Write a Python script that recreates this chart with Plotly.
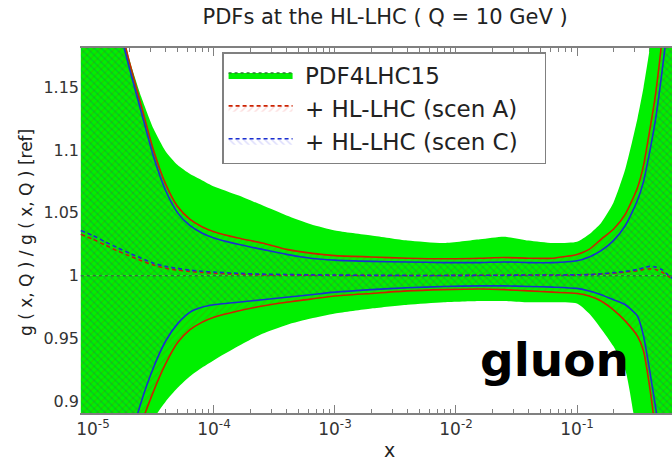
import plotly.graph_objects as go

# ---------------- data ----------------
x = [7.94e-6, 1.00e-5, 1.26e-5, 1.58e-5, 2.00e-5, 2.51e-5, 3.16e-5, 3.98e-5, 5.01e-5, 6.31e-5,
     7.94e-5, 1.00e-4, 1.58e-4, 2.51e-4, 3.98e-4, 6.31e-4, 1.00e-3, 2.00e-3, 3.98e-3, 7.94e-3,
     1.58e-2, 2.51e-2, 3.98e-2, 6.31e-2, 0.100, 0.126, 0.158, 0.200, 0.251, 0.316,
     0.355, 0.398, 0.447, 0.501, 0.562, 0.631]

# PDF4LHC15 band
pdf_up = [1.40, 1.33, 1.27, 1.215, 1.172, 1.142, 1.117, 1.099, 1.088, 1.081,
          1.076, 1.071, 1.064, 1.056, 1.048, 1.041, 1.036, 1.032, 1.028, 1.026,
          1.029, 1.031, 1.028, 1.026, 1.027, 1.033, 1.042, 1.058, 1.085, 1.125,
          1.150, 1.180, 1.220, 1.270, 1.330, 1.400]
pdf_c = [1.0] * 36
pdf_lo = [0.55, 0.62, 0.70, 0.77, 0.825, 0.862, 0.886, 0.900, 0.911, 0.920,
          0.927, 0.933, 0.944, 0.954, 0.961, 0.966, 0.970, 0.974, 0.977, 0.979,
          0.980, 0.980, 0.979, 0.979, 0.978, 0.970, 0.958, 0.944, 0.925, 0.870,
          0.830, 0.790, 0.750, 0.700, 0.650, 0.600]

# + HL-LHC (scen A)
a_up = [1.38, 1.31, 1.26, 1.21, 1.17, 1.135, 1.100, 1.073, 1.055, 1.045,
        1.039, 1.035, 1.030, 1.026, 1.021, 1.018, 1.016, 1.015, 1.014, 1.0135,
        1.014, 1.0145, 1.014, 1.014, 1.017, 1.021, 1.029, 1.037, 1.049, 1.070,
        1.088, 1.115, 1.145, 1.185, 1.230, 1.280]
a_c = [1.033, 1.029, 1.0245, 1.020, 1.0158, 1.012, 1.0085, 1.006, 1.0045, 1.0035,
       1.0027, 1.002, 1.0013, 1.0008, 1.0006, 1.0005, 1.0004, 1.0003, 1.0003, 1.0003,
       1.0004, 1.0005, 1.0006, 1.0006, 1.0008, 1.001, 1.0015, 1.002, 1.003, 1.004,
       1.005, 1.0055, 1.005, 1.003, 1.000, 0.996]
a_lo = [0.60, 0.67, 0.74, 0.80, 0.845, 0.882, 0.908, 0.930, 0.947, 0.957,
        0.963, 0.967, 0.972, 0.976, 0.979, 0.9815, 0.984, 0.986, 0.988, 0.989,
        0.9895, 0.989, 0.988, 0.987, 0.986, 0.984, 0.980, 0.973, 0.964, 0.952,
        0.940, 0.912, 0.875, 0.830, 0.780, 0.720]

# + HL-LHC (scen C)
c_up = [1.37, 1.30, 1.25, 1.205, 1.165, 1.130, 1.095, 1.068, 1.050, 1.040,
        1.034, 1.030, 1.025, 1.021, 1.017, 1.014, 1.0125, 1.0115, 1.011, 1.0105,
        1.0105, 1.011, 1.0105, 1.0105, 1.012, 1.015, 1.020, 1.028, 1.040, 1.060,
        1.075, 1.098, 1.125, 1.160, 1.200, 1.250]
c_c = [1.036, 1.032, 1.027, 1.0225, 1.018, 1.014, 1.010, 1.0075, 1.0058, 1.0045,
       1.0036, 1.003, 1.002, 1.0013, 1.001, 1.0008, 1.0006, 1.0004, 1.0003, 1.0003,
       1.0004, 1.0005, 1.0006, 1.0006, 1.0008, 1.001, 1.0015, 1.0025, 1.0035, 1.005,
       1.0065, 1.0075, 1.007, 1.005, 1.001, 0.997]
c_lo = [0.62, 0.69, 0.76, 0.82, 0.866, 0.900, 0.927, 0.948, 0.962, 0.971,
        0.975, 0.977, 0.979, 0.981, 0.983, 0.985, 0.987, 0.989, 0.9905, 0.9915,
        0.992, 0.992, 0.9915, 0.991, 0.990, 0.988, 0.985, 0.981, 0.977, 0.968,
        0.952, 0.925, 0.895, 0.860, 0.820, 0.770]

series_names = ["PDF4LHC15", "+ HL-LHC (scen A)", "+ HL-LHC (scen C)"]
x_ticks = [1e-5, 1e-4, 1e-3, 1e-2, 1e-1]
x_ticktext = ["10<sup>-5</sup>", "10<sup>-4</sup>", "10<sup>-3</sup>", "10<sup>-2</sup>", "10<sup>-1</sup>"]
y_ticks = [0.9, 0.95, 1.0, 1.05, 1.1, 1.15]
y_ticktext = ["0.9", "0.95", "1", "1.05", "1.1", "1.15"]
minor_x = [m * d for d in [1e-5, 1e-4, 1e-3, 1e-2, 1e-1] for m in range(2, 10)]

# ---------------- styles ----------------
FONT = "DejaVu Sans"
GREEN = "#00f000"
DKGREEN = "#2e7d32"
RED = "#cc2200"
BLUE = "#1a2fd0"
FRAME = "#808080"
SPL = dict(shape="spline", smoothing=0.6)
NB = "\u00a0"

def label(name):
    return NB + name + NB * 3

fig = go.Figure()

# PDF4LHC15
fig.add_trace(go.Scatter(x=x, y=pdf_lo, mode="lines", line=dict(width=0, **SPL),
                         showlegend=False, hoverinfo="skip"))
fig.add_trace(go.Scatter(x=x, y=pdf_c, mode="lines", fill="tonexty", fillcolor=GREEN,
                         line=dict(color=DKGREEN, width=1.5, dash="3px,3px"),
                         name=label(series_names[0])))
fig.add_trace(go.Scatter(x=x, y=pdf_up, mode="lines", fill="tonexty", fillcolor=GREEN,
                         line=dict(width=0, **SPL), showlegend=False, hoverinfo="skip"))

def band(lo, c, up, col, pat, fg, name):
    patt = dict(shape=pat, fgcolor=fg, bgcolor="rgba(0,0,0,0)", size=5,
                solidity=0.3, fillmode="overlay")
    fig.add_trace(go.Scatter(x=x, y=lo, mode="lines", line=dict(color=col, width=1.6, **SPL),
                             showlegend=False, hoverinfo="skip"))
    fig.add_trace(go.Scatter(x=x, y=c, mode="lines", fill="tonexty",
                             fillcolor="rgba(0,0,0,0)", fillpattern=patt,
                             line=dict(color=col, width=1.6, dash="4px,3px", **SPL),
                             name=label(name)))
    fig.add_trace(go.Scatter(x=x, y=up, mode="lines", fill="tonexty",
                             fillcolor="rgba(0,0,0,0)", fillpattern=patt,
                             line=dict(color=col, width=1.6, **SPL),
                             showlegend=False, hoverinfo="skip"))

band(a_lo, a_c, a_up, RED, "/", "rgba(230,0,0,0.27)", series_names[1])
band(c_lo, c_c, c_up, BLUE, "\\", "rgba(0,0,230,0.27)", series_names[2])

fig.update_layout(
    width=672, height=461,
    margin=dict(l=80, r=0, t=48, b=48),
    paper_bgcolor="white", plot_bgcolor="white",
    font=dict(family=FONT, color="#222222"),
    title=dict(text="PDFs at the HL-LHC ( Q = 10 GeV )", x=0.573, xanchor="center",
               y=0.963, yanchor="middle", font=dict(size=21, family=FONT, color="#222222")),
    showlegend=True,
    legend=dict(x=0.24, y=0.989, xanchor="left", yanchor="top",
                bgcolor="white", bordercolor=FRAME, borderwidth=1.5,
                font=dict(size=23, family=FONT, color="#222222"),
                itemwidth=64, traceorder="normal"),
    xaxis=dict(type="log", range=[-5.107, -0.215], showgrid=False, zeroline=False,
               showline=True, linecolor=FRAME, linewidth=1.5, mirror="ticks",
               ticks="inside", ticklen=8, tickcolor=FRAME, tickwidth=1,
               tickvals=x_ticks, ticktext=x_ticktext,
               tickfont=dict(size=17, family=FONT, color="#333333"),
               minor=dict(tickvals=minor_x, ticks="inside", ticklen=4, tickcolor=FRAME),
               layer="below traces"),
    yaxis=dict(range=[0.891, 1.181], showgrid=False, zeroline=False, showline=False,
               ticks="", tickvals=y_ticks, ticktext=y_ticktext,
               tickfont=dict(size=16, family=FONT, color="#333333"),
               layer="below traces"),
    annotations=[
        dict(text="x", xref="paper", yref="paper", x=0.522, y=-0.1, showarrow=False,
             xanchor="center", yanchor="middle", font=dict(size=19, family=FONT, color="#222222")),
        dict(text="g ( x, Q ) / g ( x, Q ) [ref]", xref="paper", yref="paper",
             x=-0.0912, y=0.493, textangle=-90, showarrow=False,
             xanchor="center", yanchor="middle", font=dict(size=17, family=FONT, color="#222222")),
        dict(text="<b>gluon</b>", xref="paper", yref="paper", x=0.802, y=0.147,
             showarrow=False, xanchor="center", yanchor="middle",
             font=dict(size=47, family=FONT, color="black")),
    ],
)

fig.write_html("out.html")
